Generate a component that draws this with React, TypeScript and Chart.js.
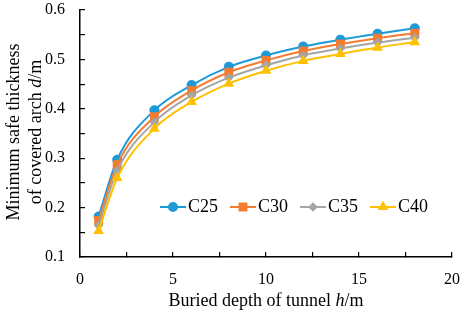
import React, { useEffect, useRef } from "react";
import { Chart, registerables } from "chart.js";

Chart.register(...registerables);

const depths = [1, 2, 4, 6, 8, 10, 12, 14, 16, 18];
const c25 = [0.182, 0.297, 0.397, 0.448, 0.485, 0.508, 0.526, 0.54, 0.552, 0.563];
const c30 = [0.174, 0.287, 0.384, 0.437, 0.474, 0.498, 0.517, 0.531, 0.543, 0.553];
const c35 = [0.164, 0.275, 0.373, 0.427, 0.463, 0.488, 0.508, 0.522, 0.534, 0.544];
const c40 = [0.153, 0.26, 0.36, 0.414, 0.451, 0.477, 0.497, 0.511, 0.524, 0.535];

const seriesNames = ["C25", "C30", "C35", "C40"];
const seriesValues = [c25, c30, c35, c40];
const seriesColors = ["#1E9AD8", "#F47C30", "#A5A5A5", "#FFC000"];
const seriesPoints = ["circle", "rect", "rectRot", "triangle"];
const seriesRadius = [5, 6.3, 4.8, 6.2];

const xMin = 0, xMax = 20, xStep = 5, xMinor = 2.5;
const yMin = 0.1, yMax = 0.6, yStep = 0.1, yMinor = 0.05;

const xTitle: [string, boolean][] = [["Buried depth of tunnel ", false], ["h", true], ["/m", false]];
const yTitle1: [string, boolean][] = [["Minimum safe thickness", false]];
const yTitle2: [string, boolean][] = [["of covered arch ", false], ["d", true], ["/m", false]];

const FONT = '"Liberation Serif", "Times New Roman", serif';

function isMajor(v: number, step: number) {
  const r = v / step;
  return Math.abs(r - Math.round(r)) < 1e-6;
}

function richWidth(ctx: CanvasRenderingContext2D, parts: [string, boolean][], size: number) {
  let w = 0;
  for (const [t, it] of parts) {
    ctx.font = `${it ? "italic " : ""}${size}px ${FONT}`;
    w += ctx.measureText(t).width;
  }
  return w;
}

function drawRich(ctx: CanvasRenderingContext2D, parts: [string, boolean][], cx: number, baseY: number, size: number) {
  const total = richWidth(ctx, parts, size);
  let x = cx - total / 2;
  ctx.textAlign = "left";
  ctx.textBaseline = "alphabetic";
  for (const [t, it] of parts) {
    ctx.font = `${it ? "italic " : ""}${size}px ${FONT}`;
    ctx.fillText(t, x, baseY);
    x += ctx.measureText(t).width;
  }
}

function drawMarker(ctx: CanvasRenderingContext2D, style: string, x: number, y: number, r: number) {
  ctx.beginPath();
  if (style === "circle") {
    ctx.arc(x, y, r, 0, Math.PI * 2);
  } else if (style === "rect") {
    const s = Math.SQRT1_2 * r;
    ctx.rect(x - s, y - s, 2 * s, 2 * s);
  } else if (style === "rectRot") {
    ctx.moveTo(x, y - r);
    ctx.lineTo(x + r, y);
    ctx.lineTo(x, y + r);
    ctx.lineTo(x - r, y);
    ctx.closePath();
  } else {
    let a = 0;
    ctx.moveTo(x + Math.sin(a) * r, y - Math.cos(a) * r);
    a += (2 * Math.PI) / 3;
    ctx.lineTo(x + Math.sin(a) * r, y - Math.cos(a) * r);
    a += (2 * Math.PI) / 3;
    ctx.lineTo(x + Math.sin(a) * r, y - Math.cos(a) * r);
    ctx.closePath();
  }
  ctx.fill();
}

const decor = {
  id: "decor",
  afterDraw(chart: any) {
    const ctx: CanvasRenderingContext2D = chart.ctx;
    const ca = chart.chartArea;
    ctx.save();
    ctx.fillStyle = "#000000";
    drawRich(ctx, xTitle, (ca.left + ca.right) / 2, 306, 18);
    const cy = 132;
    ctx.save();
    ctx.translate(19, cy);
    ctx.rotate(-Math.PI / 2);
    drawRich(ctx, yTitle1, 0, 0, 18);
    ctx.restore();
    ctx.save();
    ctx.translate(41, cy);
    ctx.rotate(-Math.PI / 2);
    drawRich(ctx, yTitle2, 0, 0, 18);
    ctx.restore();

    const ly = 207;
    for (let i = 0; i < seriesNames.length; i++) {
      const lx = 160 + i * 70;
      ctx.fillStyle = seriesColors[i];
      ctx.fillRect(lx, ly - 1, 26, 2);
      drawMarker(ctx, seriesPoints[i], lx + 13, ly, seriesRadius[i]);
      ctx.fillStyle = "#000";
      ctx.font = `18px ${FONT}`;
      ctx.textAlign = "left";
      ctx.textBaseline = "middle";
      ctx.fillText(seriesNames[i], lx + 28, ly);
    }
    ctx.restore();
  },
};

export default function App() {
  const ref = useRef<HTMLCanvasElement>(null);
  useEffect(() => {
    document.body.style.margin = "0";
    const canvas = ref.current!;
    const chart = new Chart(canvas, {
      type: "scatter",
      data: {
        datasets: seriesNames.map((name, i) => ({
          label: name,
          data: depths.map((d, j) => ({ x: d, y: seriesValues[i][j] })),
          showLine: true,
          borderColor: seriesColors[i],
          backgroundColor: seriesColors[i],
          borderWidth: 2,
          pointStyle: seriesPoints[i] as any,
          pointRadius: seriesRadius[i],
          pointBorderWidth: 0,
          pointHoverRadius: seriesRadius[i],
          cubicInterpolationMode: "monotone" as const,
          order: seriesNames.length - i,
        })),
      },
      options: {
        responsive: false,
        animation: false,
        layout: { padding: { top: 10, right: 12, left: 0, bottom: 0 } },
        plugins: { legend: { display: false }, tooltip: { enabled: false } },
        scales: {
          x: {
            type: "linear",
            min: xMin,
            max: xMax,
            grid: { display: true, drawOnChartArea: false, drawTicks: true, tickLength: -5, color: "#000000", lineWidth: 1.2 },
            border: { display: true, color: "#000000", width: 1.5 },
            ticks: {
              stepSize: xMinor,
              autoSkip: false,
              color: "#000",
              font: { family: FONT, size: 16 },
              padding: 18,
              maxRotation: 0,
              callback: (v: any) => (isMajor(Number(v), xStep) ? String(Math.round(Number(v))) : ""),
            },
            afterFit: (s: any) => {
              s.height = 55;
              s.paddingLeft = 0;
              s.paddingRight = 0;
            },
          },
          y: {
            type: "linear",
            min: yMin,
            max: yMax,
            grid: { display: true, drawOnChartArea: false, drawTicks: true, tickLength: -5, color: "#000000", lineWidth: 1.2 },
            border: { display: true, color: "#000000", width: 1.5 },
            ticks: {
              stepSize: yMinor,
              autoSkip: false,
              color: "#000",
              font: { family: FONT, size: 16 },
              padding: 20,
              callback: (v: any) => (isMajor(Number(v), yStep) ? Number(v).toFixed(1) : ""),
            },
            afterFit: (s: any) => {
              s.width = 80;
              s.paddingTop = 0;
              s.paddingBottom = 0;
            },
          },
        },
      },
      plugins: [decor],
    });
    return () => chart.destroy();
  }, []);
  return (
    <div style={{ position: "fixed", left: 0, top: 0, width: 464, height: 312 }}>
      <canvas ref={ref} width={464} height={312} style={{ width: 464, height: 312 }} />
    </div>
  );
}
